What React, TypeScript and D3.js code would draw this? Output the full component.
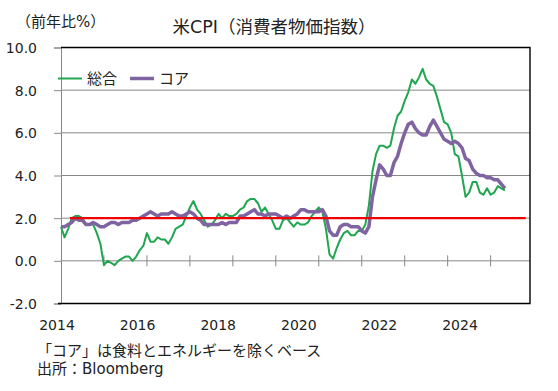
import { useEffect, useRef } from 'react';
import * as d3 from 'd3';

// 2014年1月から月次（前年比%）
const startYear = 2014;
const monthCount = 131; // 横軸は2014/1〜2024/11まで

const headline = [
    1.6, 1.1, 1.5, 2.0, 2.1, 2.1, 2.0, 1.7, 1.7, 1.7, 1.3, 0.8,
    -0.2, 0.0, -0.1, -0.2, 0.0, 0.1, 0.2, 0.2, 0.0, 0.2, 0.5, 0.7,
    1.3, 0.9, 0.9, 1.1, 1.0, 1.0, 0.8, 1.1, 1.5, 1.6, 1.7, 2.1,
    2.5, 2.8, 2.4, 2.2, 1.9, 1.6, 1.7, 1.9, 2.2, 2.0, 2.2, 2.1,
    2.1, 2.2, 2.4, 2.5, 2.8, 2.9, 2.9, 2.7, 2.3, 2.5, 2.2, 1.9,
    1.5, 1.5, 1.9, 2.0, 1.8, 1.6, 1.8, 1.7, 1.7, 1.8, 2.1, 2.3,
    2.5, 2.3, 1.5, 0.3, 0.1, 0.6, 1.0, 1.3, 1.4, 1.2, 1.2, 1.4,
    1.4, 1.7, 2.6, 4.2, 5.0, 5.4, 5.4, 5.3, 5.4, 6.2, 6.8, 7.0,
    7.5, 7.9, 8.5, 8.3, 8.6, 9.0, 8.5, 8.3, 8.2, 7.7, 7.1, 6.5,
    6.4, 6.0, 5.0, 4.9, 4.0, 3.0, 3.2, 3.7, 3.7, 3.2, 3.1, 3.4,
    3.1, 3.2, 3.5, 3.4, 3.3,
];

const core = [
    1.6, 1.6, 1.7, 1.8, 2.0, 1.9, 1.9, 1.7, 1.7, 1.8, 1.7, 1.6,
    1.6, 1.7, 1.8, 1.8, 1.7, 1.8, 1.8, 1.8, 1.9, 1.9, 2.0, 2.1,
    2.2, 2.3, 2.2, 2.1, 2.2, 2.2, 2.2, 2.3, 2.2, 2.1, 2.1, 2.2,
    2.3, 2.2, 2.0, 1.9, 1.7, 1.7, 1.7, 1.7, 1.7, 1.8, 1.7, 1.8,
    1.8, 1.8, 2.1, 2.1, 2.2, 2.3, 2.4, 2.2, 2.2, 2.1, 2.2, 2.2,
    2.2, 2.1, 2.0, 2.1, 2.0, 2.1, 2.2, 2.4, 2.4, 2.3, 2.3, 2.3,
    2.3, 2.4, 2.1, 1.4, 1.2, 1.2, 1.6, 1.7, 1.7, 1.6, 1.6, 1.6,
    1.4, 1.3, 1.6, 3.0, 3.8, 4.5, 4.3, 4.0, 4.0, 4.6, 4.9, 5.5,
    6.0, 6.4, 6.5, 6.2, 6.0, 5.9, 5.9, 6.3, 6.6, 6.3, 6.0, 5.7,
    5.6, 5.5, 5.6, 5.5, 5.3, 4.8, 4.7, 4.3, 4.1, 4.0, 4.0, 3.9,
    3.9, 3.8, 3.8, 3.6, 3.4,
];

const target = 2.0;
const targetRange = [2.5, 129.8]; // 赤線の始点・終点（月インデックス）

const yTicks = [-2, 0, 2, 4, 6, 8, 10];
const yearLabels = ['2014', '2016', '2018', '2020', '2022', '2024'];

const title = '米CPI（消費者物価指数）';
const unitLabel = '（前年比%）';
const notes = ['「コア」は食料とエネルギーを除くベース', '出所：Bloomberg'];

const seriesDefs = [
    { name: '総合', values: headline, color: '#1fa64f', width: 2 },
    { name: 'コア', values: core, color: '#8064a2', width: 3.5 },
];

const FONT = "Meiryo, 'DejaVu Sans', 'Noto Sans CJK JP', sans-serif";

const App = () => {
    const svgRef = useRef<SVGSVGElement | null>(null);

    useEffect(() => {
        if (!svgRef.current) return;
        const svg = d3.select(svgRef.current);
        svg.selectAll('*').remove();

        const width = 558;
        const height = 391;
        const margin = { top: 47.5, right: 28, bottom: 87.5, left: 61 };
        const right = width - margin.right;
        const bottom = height - margin.bottom;

        const x = d3.scaleLinear().domain([0, monthCount]).range([margin.left, right]);
        const y = d3.scaleLinear().domain([-2, 10]).range([bottom, margin.top]);

        svg.attr('font-family', FONT);

        // gridlines
        svg.append('g')
            .selectAll('line')
            .data(yTicks.filter(t => t > -2 && t < 10))
            .join('line')
            .attr('x1', margin.left)
            .attr('x2', right)
            .attr('y1', d => y(d))
            .attr('y2', d => y(d))
            .attr('stroke', '#888')
            .attr('stroke-width', 1);

        // left axis with outward ticks
        const yAxis = svg.append('g')
            .attr('transform', `translate(${margin.left},0)`)
            .call(d3.axisLeft(y).tickValues(yTicks).tickSize(7).tickFormat(d => (+d).toFixed(1)));
        yAxis.select('.domain').attr('stroke', '#888');
        yAxis.selectAll('.tick line').attr('stroke', '#888');
        yAxis.selectAll('.tick text')
            .attr('fill', '#222')
            .attr('font-size', 14)
            .attr('font-family', FONT)
            .attr('x', -24)
            .attr('dy', '0.36em');

        // x ticks at each January, crossing the zero line
        const janIdx = d3.range(12, monthCount, 12);
        svg.append('g')
            .selectAll('line')
            .data(janIdx)
            .join('line')
            .attr('x1', d => x(d))
            .attr('x2', d => x(d))
            .attr('y1', y(0) - 5.5)
            .attr('y2', y(0) + 5.5)
            .attr('stroke', '#888');

        // plot border (top, right, bottom)
        svg.append('path')
            .attr('d', `M${margin.left},${margin.top}H${right}V${bottom}H${margin.left - 3}`)
            .attr('fill', 'none')
            .attr('stroke', '#000')
            .attr('stroke-width', 1.4);

        // series
        const line = d3.line<number>()
            .x((_, i) => x(i))
            .y(d => y(d));

        seriesDefs.forEach(s => {
            svg.append('path')
                .datum(s.values)
                .attr('d', line)
                .attr('fill', 'none')
                .attr('stroke', s.color)
                .attr('stroke-width', s.width)
                .attr('stroke-linejoin', 'round');
        });

        // 2% line
        svg.append('line')
            .attr('x1', x(targetRange[0]))
            .attr('x2', x(targetRange[1]))
            .attr('y1', y(target))
            .attr('y2', y(target))
            .attr('stroke', '#f00000')
            .attr('stroke-width', 2.2);

        // year labels (evenly spaced text boxes)
        const labelX = d3.scalePoint().domain(yearLabels).range([57, 460]);
        svg.append('g')
            .selectAll('text')
            .data(yearLabels)
            .join('text')
            .attr('x', d => labelX(d) as number)
            .attr('y', 330)
            .attr('text-anchor', 'middle')
            .attr('font-size', 14)
            .attr('fill', '#222')
            .text(d => d);

        // legend
        const legend = svg.append('g')
            .selectAll('g')
            .data(seriesDefs)
            .join('g')
            .attr('transform', (_, i) => `translate(${58 + i * 72},78.5)`);
        legend.append('line')
            .attr('x1', 0)
            .attr('x2', 24)
            .attr('stroke', d => d.color)
            .attr('stroke-width', d => d.width);
        legend.append('text')
            .attr('x', 29)
            .attr('dy', '0.36em')
            .attr('font-size', 15)
            .attr('fill', '#222')
            .text(d => d.name);

        // titles and notes
        svg.append('text')
            .attr('x', 274)
            .attr('y', 33)
            .attr('text-anchor', 'middle')
            .attr('font-size', 17.5)
            .attr('fill', '#222')
            .text(title);

        svg.append('text')
            .attr('x', 16)
            .attr('y', 27)
            .attr('font-size', 15)
            .attr('fill', '#222')
            .text(unitLabel);

        svg.append('g')
            .selectAll('text')
            .data(notes)
            .join('text')
            .attr('x', 37)
            .attr('y', (_, i) => 356 + i * 18)
            .attr('font-size', 15)
            .attr('fill', '#222')
            .text(d => d);
    }, []);

    return (
        <svg
            ref={svgRef}
            width={558}
            height={391}
            style={{ position: 'absolute', left: 0, top: 0, background: '#fff' }}
        />
    );
};

export default App;
